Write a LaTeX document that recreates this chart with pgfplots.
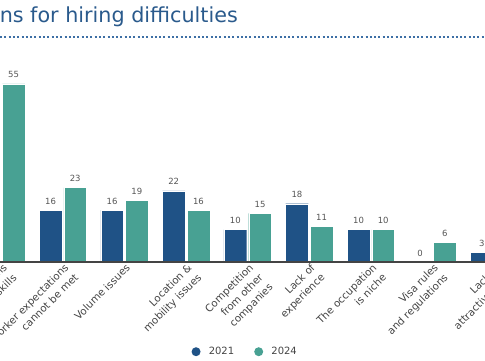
\documentclass[border=0pt]{standalone}
\usepackage{pgfplots}
\pgfplotsset{compat=1.18}
\usepackage{fontspec}
\setmainfont{DejaVu Sans}
\definecolor{cA}{RGB}{31,82,134}
\definecolor{cB}{RGB}{72,161,147}
\definecolor{ctitle}{RGB}{42,90,140}
\definecolor{cdot}{RGB}{61,111,165}
\definecolor{clab}{RGB}{85,85,85}
\definecolor{ctick}{RGB}{68,68,68}
\begin{document}
\begin{tikzpicture}
\useasboundingbox (0,0) rectangle (485pt,360pt);
\clip (0,0) rectangle (485pt,360pt);
\node[anchor=base east, font=\fontsize{20.7}{24}\selectfont, text=ctitle, inner sep=0pt] at (238pt,337.3pt) {Top reasons for hiring difficulties};
\draw[cdot, line width=2pt, dash pattern=on 2pt off 2.3pt] (0pt,323.5pt) -- (485pt,323.5pt);
\begin{axis}[
  at={(-29.5pt,98pt)}, anchor=south west,
  scale only axis, width=554.4pt, height=194.2pt,
  xmin=-0.5, xmax=8.5, ymin=0, ymax=60,
  clip=false, axis on top,
  axis x line=bottom, axis y line=none,
  x axis line style={draw=ctick, line width=1.5pt, -},
  major tick length=0pt,
  xtick={0,...,8},
  xticklabels={{Lack of qualifications\\and skills},{Worker expectations\\cannot be met},{Volume issues},{Location \&\\mobility issues},{Competition\\from other\\companies},{Lack of\\experience},{The occupation\\is niche},{Visa rules\\and regulations},{Lack of\\attractiveness}},
  xticklabel style={rotate=45, anchor=north east, align=right, font=\fontsize{10.3}{13.8}\selectfont, text=ctick, inner sep=1pt, xshift=1pt},
  ytick=\empty,
  /pgf/number format/assume math mode=true,
  nodes near coords,
  nodes near coords style={font=\fontsize{8.5}{10}\selectfont, text=clab, anchor=base, yshift=6pt},
  legend columns=2,
  legend style={at={(0.4955,-0.462)}, anchor=center, draw=none, fill=none, font=\fontsize{10}{12}\selectfont, text=ctick, /tikz/every even column/.append style={column sep=18pt}},
]
\addplot[ybar, bar width=22.7pt, bar shift=-12.35pt, fill=cA, draw=white, line width=0.4pt,
  every node near coord/.append style={xshift=-12.35pt},
  legend image code/.code={\fill[cA, draw=none] (0pt,0pt) circle (4.5pt); \path (10.5pt,0pt);}]
  coordinates {(1,16) (2,16) (3,22) (4,10) (5,18) (6,10) (7,0) (8,3)};
\addplot[ybar, bar width=22.7pt, bar shift=12.35pt, fill=cB, draw=white, line width=0.4pt,
  every node near coord/.append style={xshift=12.35pt},
  legend image code/.code={\fill[cB, draw=none] (0pt,0pt) circle (4.5pt); \path (10.5pt,0pt);}]
  coordinates {(0,55) (1,23) (2,19) (3,16) (4,15) (5,11) (6,10) (7,6)};
\legend{2021,2024}
\end{axis}
\end{tikzpicture}
\end{document}
